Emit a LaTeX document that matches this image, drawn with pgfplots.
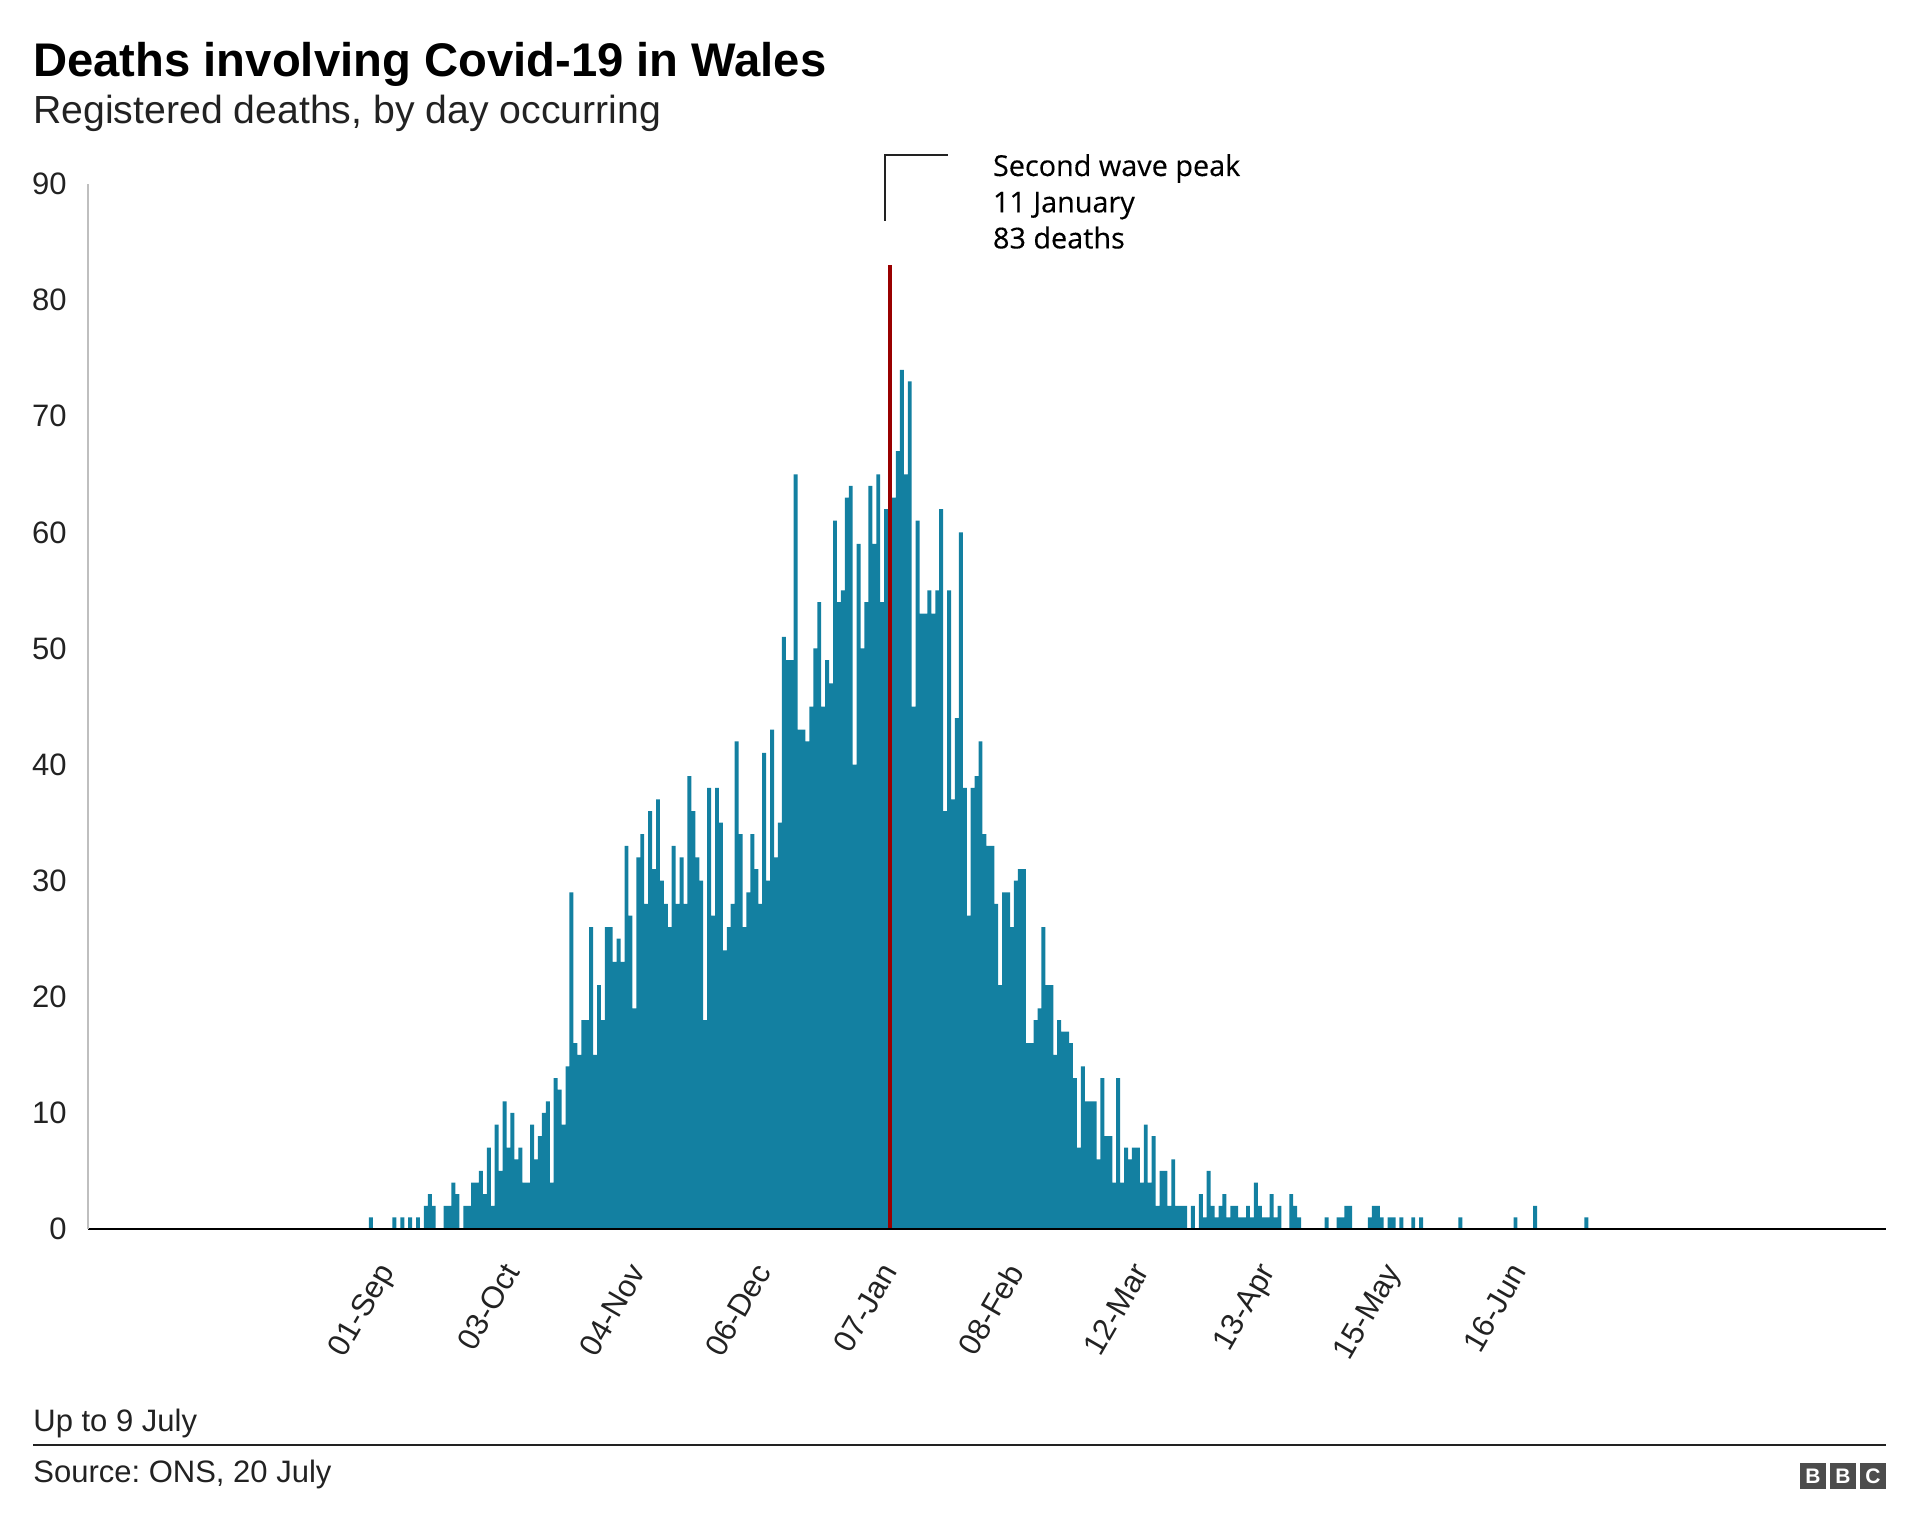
\documentclass[border=0pt]{standalone}
\usepackage{pgfplots}
\pgfplotsset{compat=1.18}
\usepackage{pgfplotstable}
\usepackage{fontspec}
\setmainfont{Liberation Sans}
\newfontfamily\annfont[FakeBold=0.3]{Open Sans}
\definecolor{bbcteal}{HTML}{1380A1}
\definecolor{peakred}{HTML}{990000}
\definecolor{txt}{HTML}{222222}
\frenchspacing

\pgfplotstableread{
x y
0 1
6 1
8 1
10 1
12 1
14 2
15 3
16 2
19 2
20 2
21 4
22 3
24 2
25 2
26 4
27 4
28 5
29 3
30 7
31 2
32 9
33 5
34 11
35 7
36 10
37 6
38 7
39 4
40 4
41 9
42 6
43 8
44 10
45 11
46 4
47 13
48 12
49 9
50 14
51 29
52 16
53 15
54 18
55 18
56 26
57 15
58 21
59 18
60 26
61 26
62 23
63 25
64 23
65 33
66 27
67 19
68 32
69 34
70 28
71 36
72 31
73 37
74 30
75 28
76 26
77 33
78 28
79 32
80 28
81 39
82 36
83 32
84 30
85 18
86 38
87 27
88 38
89 35
90 24
91 26
92 28
93 42
94 34
95 26
96 29
97 34
98 31
99 28
100 41
101 30
102 43
103 32
104 35
105 51
106 49
107 49
108 65
109 43
110 43
111 42
112 45
113 50
114 54
115 45
116 49
117 47
118 61
119 54
120 55
121 63
122 64
123 40
124 59
125 50
126 54
127 64
128 59
129 65
130 54
131 62
133 63
134 67
135 74
136 65
137 73
138 45
139 61
140 53
141 53
142 55
143 53
144 55
145 62
146 36
147 55
148 37
149 44
150 60
151 38
152 27
153 38
154 39
155 42
156 34
157 33
158 33
159 28
160 21
161 29
162 29
163 26
164 30
165 31
166 31
167 16
168 16
169 18
170 19
171 26
172 21
173 21
174 15
175 18
176 17
177 17
178 16
179 13
180 7
181 14
182 11
183 11
184 11
185 6
186 13
187 8
188 8
189 4
190 13
191 4
192 7
193 6
194 7
195 7
196 4
197 9
198 4
199 8
200 2
201 5
202 5
203 2
204 6
205 2
206 2
207 2
209 2
211 3
212 1
213 5
214 2
215 1
216 2
217 3
218 1
219 2
220 2
221 1
222 1
223 2
224 1
225 4
226 2
227 1
228 1
229 3
230 1
231 2
234 3
235 2
236 1
243 1
246 1
247 1
248 2
249 2
254 1
255 2
256 2
257 1
259 1
260 1
262 1
265 1
267 1
277 1
291 1
296 2
309 1
}\deaths

\pgfplotstableread{
x y
132 83
}\peak

\begin{document}
\begin{tikzpicture}
\useasboundingbox (0,0) rectangle (960pt,-765pt);
\begin{axis}[
  scale only axis, width=899pt, height=522.5pt,
  at={(44pt,-614.5pt)}, anchor=south west,
  xmin=-71.9, xmax=385.2, ymin=0, ymax=90,
  axis x line=bottom, axis y line=left,
  x axis line style={-, black, line width=1.4pt},
  y axis line style={-, black!25, line width=0.6pt},
  axis on top,
  major tick length=0pt,
  ytick={0,10,...,90},
  xtick={0,32,...,288},
  xticklabels={01-Sep,03-Oct,04-Nov,06-Dec,07-Jan,08-Feb,12-Mar,13-Apr,15-May,16-Jun},
  tick label style={font=\fontsize{15.5pt}{18pt}\selectfont, text=txt},
  /pgf/number format/assume math mode=true,
  yticklabel style={anchor=east, inner sep=0pt, xshift=-10.5pt},
  xticklabel style={inner sep=0pt, xshift=2.5pt, yshift=-15.8pt, rotate=60, anchor=north east},
  clip=false,
]
\addplot[ybar, bar width=1, bar shift=0pt, fill=bbcteal, draw=none] table[x=x, y=y] {\deaths};
\addplot[ybar, bar width=1, bar shift=0pt, fill=peakred, draw=none] table[x=x, y=y] {\peak};
\end{axis}
\node[anchor=base west, inner sep=0pt, font=\bfseries\fontsize{23.6pt}{28pt}\selectfont] at (16.5pt,-38.5pt) {Deaths involving Covid-19 in Wales};
\node[anchor=base west, inner sep=0pt, font=\fontsize{19.6pt}{24pt}\selectfont, text=txt] at (16.5pt,-62pt) {Registered deaths, by day occurring};
\draw[txt, line width=1pt] (442.5pt,-110.5pt) -- (442.5pt,-77.5pt) -- (474pt,-77.5pt);
\node[anchor=base west, inner sep=0pt, font=\annfont\fontsize{14.4pt}{18pt}\selectfont, text=black] at (496.3pt,-88pt) {Second wave peak};
\node[anchor=base west, inner sep=0pt, font=\annfont\fontsize{14.4pt}{18pt}\selectfont, text=black] at (496.3pt,-106.2pt) {11 January};
\node[anchor=base west, inner sep=0pt, font=\annfont\fontsize{14.4pt}{18pt}\selectfont, text=black] at (496.3pt,-124.2pt) {83 deaths};
\node[anchor=base west, inner sep=0pt, font=\fontsize{15.5pt}{18pt}\selectfont, text=txt] at (16.5pt,-715.5pt) {Up to 9 July};
\draw[txt, line width=0.6pt] (16.5pt,-722.5pt) -- (943pt,-722.5pt);
\node[anchor=base west, inner sep=0pt, font=\fontsize{15.5pt}{18pt}\selectfont, text=txt] at (16.5pt,-741pt) {Source: ONS, 20 July};
\foreach \i/\l in {0/B,1/B,2/C} {
  \fill[black!70] (900pt+\i*15pt,-731.5pt) rectangle ++(13pt,-13pt);
  \node[white, inner sep=0pt, font=\bfseries\fontsize{10.5pt}{10.5pt}\selectfont] at (906.5pt+\i*15pt,-738pt) {\l};
}
\end{tikzpicture}
\end{document}
